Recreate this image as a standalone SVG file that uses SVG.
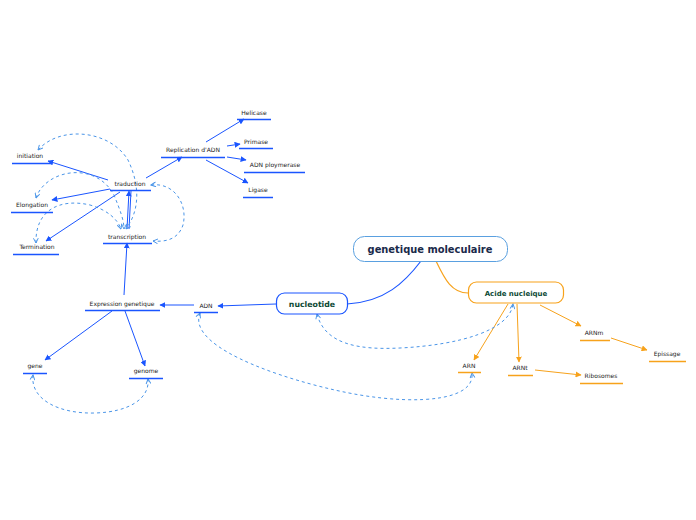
<svg xmlns="http://www.w3.org/2000/svg" width="696" height="520" viewBox="0 0 696 520">
<defs>
<marker id="ab" viewBox="0 0 10 10" refX="9" refY="5" markerWidth="6" markerHeight="6" orient="auto-start-reverse" markerUnits="userSpaceOnUse"><path d="M0,0 L10,5 L0,10 z" fill="#1a55ff"/></marker>
<marker id="ao" viewBox="0 0 10 10" refX="9" refY="5" markerWidth="6" markerHeight="6" orient="auto-start-reverse" markerUnits="userSpaceOnUse"><path d="M0,0 L10,5 L0,10 z" fill="#f7a21b"/></marker>
<marker id="ad" viewBox="0 0 10 10" refX="9" refY="5" markerWidth="6" markerHeight="6" orient="auto-start-reverse" markerUnits="userSpaceOnUse"><path d="M1,1 L9,5 L1,9" fill="none" stroke="#4a95e8" stroke-width="1.6"/></marker>
</defs>
<style>
.lb{font-family:"DejaVu Sans",Verdana,sans-serif;font-size:6px;fill:#222;text-anchor:middle}
.ub{stroke:#1a55ff;stroke-width:1.5}
.uo{stroke:#f7a21b;stroke-width:1.5}
.cb{fill:none;stroke:#1a55ff;stroke-width:1;marker-end:url(#ab)}
.co{fill:none;stroke:#f7a21b;stroke-width:1;marker-end:url(#ao)}
.rel{fill:none;stroke:#4a95e8;stroke-width:1;stroke-dasharray:3,3;marker-start:url(#ad);marker-end:url(#ad)}
.hd{font-family:"DejaVu Sans",Verdana,sans-serif;font-weight:bold;text-anchor:middle}
</style>
<g id="connectors">
<path d="M347,304 C385,302 405,282 421,261" fill="none" stroke="#1a55ff" stroke-width="1.2"/>
<path d="M436,261 C445,280 452,293 468,293" fill="none" stroke="#f7a21b" stroke-width="1.2"/>
<line x1="276" y1="304" x2="218" y2="306" class="cb"/>
<line x1="194" y1="305" x2="160" y2="305" class="cb"/>
<line x1="112" y1="311" x2="45" y2="360" class="cb"/>
<line x1="125" y1="311" x2="145" y2="366" class="cb"/>
<line x1="124" y1="295" x2="127" y2="243" class="cb"/>
<line x1="127" y1="229" x2="129" y2="191" class="cb"/>
<line x1="131" y1="191" x2="129" y2="229" stroke="#1a55ff" stroke-width="1"/>
<line x1="146" y1="178" x2="182" y2="157" class="cb"/>
<line x1="206" y1="142" x2="244" y2="119" class="cb"/>
<line x1="227" y1="146" x2="240" y2="144" class="cb"/>
<line x1="227" y1="157" x2="246" y2="160" class="cb"/>
<line x1="206" y1="160" x2="248" y2="183" class="cb"/>
<line x1="108" y1="180" x2="48" y2="161" class="cb"/>
<line x1="110" y1="189" x2="52" y2="200" class="cb"/>
<line x1="120" y1="192" x2="46" y2="241" class="cb"/>
<line x1="508" y1="304" x2="474" y2="360" class="co"/>
<line x1="517" y1="304" x2="519" y2="362" class="co"/>
<line x1="540" y1="305" x2="581" y2="326" class="co"/>
<line x1="611" y1="338" x2="647" y2="350" class="co"/>
<line x1="535" y1="370" x2="581" y2="375" class="co"/>
<path class="rel" d="M33,375 C30,400 60,414 95,413 C130,412 150,398 148,379"/>
<path class="rel" d="M38,150 C60,125 110,130 128,160 C140,185 140,210 126,229"/>
<path class="rel" d="M36,198 C45,170 95,160 114,195 C120,210 124,220 124,229"/>
<path class="rel" d="M36,243 C35,210 60,198 90,205 C108,210 118,220 121,229"/>
<path class="rel" d="M151,185 C175,182 188,205 183,225 C178,240 165,242 153,241"/>
<path class="rel" d="M317,314 C325,345 360,350 400,348 C460,345 510,330 513,304"/>
<path class="rel" d="M200,313 C185,350 300,385 360,395 C420,405 475,400 472,373"/>
</g>
<g id="n-root"><rect x="353.5" y="236.5" width="154" height="25" rx="11" fill="#fff" stroke="#5aa0e0" stroke-width="1"/><text x="430" y="252.5" class="hd" font-size="9.9" fill="#1a2a4a">genetique moleculaire</text></g>
<g id="n-nucleotide"><rect x="276.5" y="293" width="71" height="21" rx="8" fill="#fff" stroke="#1a55ff" stroke-width="1.2"/><text x="312" y="306.5" class="hd" font-size="7.8" fill="#0d4a35">nucleotide</text></g>
<g id="n-acide"><rect x="468.5" y="282" width="95" height="21" rx="8" fill="#fff" stroke="#f7a21b" stroke-width="1.2"/><text x="516" y="295.5" class="hd" font-size="7" fill="#0d4a35">Acide nucleique</text></g>
<g id="n-adn"><text x="206" y="308" class="lb">ADN</text><line x1="194" y1="312.5" x2="218" y2="312.5" class="ub"/></g>
<g id="n-expr"><text x="122" y="306" class="lb">Expression genetique</text><line x1="85" y1="310.5" x2="160" y2="310.5" class="ub"/></g>
<g id="n-gene"><text x="35" y="368" class="lb">gene</text><line x1="23" y1="373.5" x2="47" y2="373.5" class="ub"/></g>
<g id="n-genome"><text x="146" y="373" class="lb">genome</text><line x1="129" y1="378.5" x2="163" y2="378.5" class="ub"/></g>
<g id="n-transcription"><text x="127" y="239" class="lb">transcription</text><line x1="103" y1="243.5" x2="152" y2="243.5" class="ub"/></g>
<g id="n-traduction"><text x="130" y="186" class="lb">traduction</text><line x1="110" y1="190.5" x2="151" y2="190.5" class="ub"/></g>
<g id="n-replication"><text x="193" y="152" class="lb">Replication d'ADN</text><line x1="161" y1="157.5" x2="225" y2="157.5" class="ub"/></g>
<g id="n-helicase"><text x="254" y="115" class="lb">Helicase</text><line x1="237" y1="119.5" x2="271" y2="119.5" class="ub"/></g>
<g id="n-primase"><text x="256" y="144" class="lb">Primase</text><line x1="239" y1="148.5" x2="273" y2="148.5" class="ub"/></g>
<g id="n-polymerase"><text x="275" y="167" class="lb">ADN ploymerase</text><line x1="244" y1="172.5" x2="305" y2="172.5" class="ub"/></g>
<g id="n-ligase"><text x="258" y="192" class="lb">Ligase</text><line x1="243" y1="197.5" x2="273" y2="197.5" class="ub"/></g>
<g id="n-initiation"><text x="30" y="158" class="lb">initiation</text><line x1="12" y1="163.5" x2="51" y2="163.5" class="ub"/></g>
<g id="n-elongation"><text x="32" y="207" class="lb">Elongation</text><line x1="11" y1="212.5" x2="53" y2="212.5" class="ub"/></g>
<g id="n-termination"><text x="37" y="249" class="lb">Termination</text><line x1="13" y1="254.5" x2="59" y2="254.5" class="ub"/></g>
<g id="n-arn"><text x="469" y="368" class="lb">ARN</text><line x1="458" y1="372.5" x2="481" y2="372.5" class="uo"/></g>
<g id="n-arnt"><text x="520" y="370" class="lb">ARNt</text><line x1="508" y1="375.5" x2="533" y2="375.5" class="uo"/></g>
<g id="n-arnm"><text x="594" y="335" class="lb">ARNm</text><line x1="580" y1="340.5" x2="610" y2="340.5" class="uo"/></g>
<g id="n-epissage"><text x="667" y="356" class="lb">Epissage</text><line x1="649" y1="361.5" x2="686" y2="361.5" class="uo"/></g>
<g id="n-ribosomes"><text x="601" y="378" class="lb">Ribosomes</text><line x1="580" y1="383.5" x2="623" y2="383.5" class="uo"/></g>
</svg>
